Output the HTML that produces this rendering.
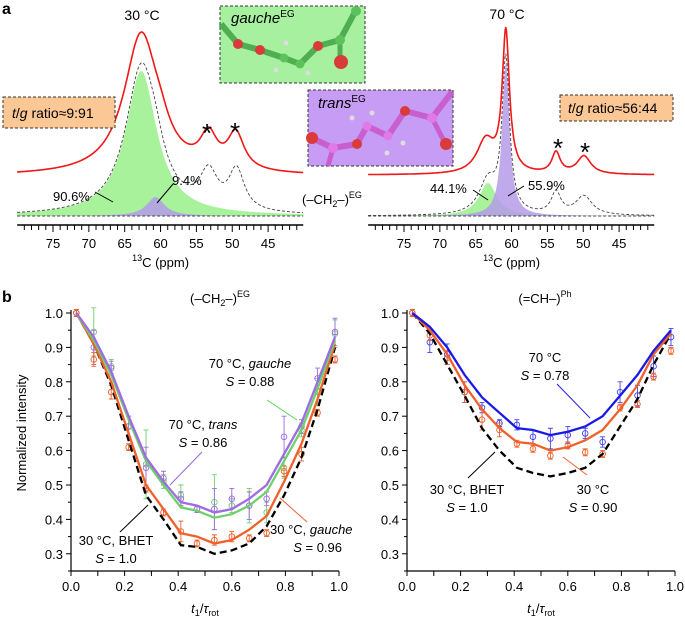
<!DOCTYPE html>
<html><head><meta charset="utf-8"><style>
html,body{margin:0;padding:0;background:#fff}
svg{display:block;font-family:"Liberation Sans",sans-serif}
</style></head><body>
<svg id="fig" width="685" height="620" viewBox="0 0 685 620" xmlns="http://www.w3.org/2000/svg">
<g id="specL"></g>
<g id="specR"></g>
<g id="insets">
 <g>
  <rect x="220" y="6" width="145" height="77" fill="#a6f0a0" stroke="#333" stroke-dasharray="3,2"/>
  <polyline points="221,24 238,44 260,50 284,58 300,64 318,46 340,40 356,10" fill="none" stroke="#4fae4f" stroke-width="6"/>
  <line x1="340" y1="40" x2="340" y2="60" stroke="#4fae4f" stroke-width="5"/>
  <circle cx="238" cy="44" r="5" fill="#d93a3a"/><circle cx="260" cy="50" r="5" fill="#d93a3a"/>
  <circle cx="284" cy="58" r="4.5" fill="#5cc25c"/><circle cx="300" cy="64" r="4.5" fill="#5cc25c"/>
  <circle cx="318" cy="46" r="5" fill="#d93a3a"/><circle cx="340" cy="40" r="5" fill="#5cc25c"/>
  <circle cx="341" cy="62" r="7" fill="#d93a3a"/><circle cx="356" cy="11" r="5" fill="#5cc25c"/>
  <circle cx="276" cy="70" r="2.5" fill="#ddd"/><circle cx="286" cy="43" r="2.5" fill="#ddd"/><circle cx="308" cy="73" r="2.5" fill="#ddd"/>
  <text x="231" y="23" font-size="15" font-style="italic">gauche<tspan font-size="10" font-style="normal" dy="-6">EG</tspan></text>
 </g>
 <g>
  <rect x="308" y="90" width="145" height="76" fill="#c79cf5" stroke="#333" stroke-dasharray="3,2"/>
  <polyline points="312,138 333,148 357,144 367,126 388,136 405,111 432,118 452,92" fill="none" stroke="#c95fcf" stroke-width="6"/>
  <line x1="432" y1="118" x2="445" y2="143" stroke="#c95fcf" stroke-width="5"/>
  <line x1="333" y1="148" x2="328" y2="166" stroke="#c95fcf" stroke-width="5"/>
  <circle cx="312" cy="138" r="6" fill="#d93a3a"/><circle cx="333" cy="148" r="5" fill="#e07ae6"/>
  <circle cx="357" cy="144" r="5" fill="#d93a3a"/><circle cx="367" cy="126" r="4.5" fill="#e07ae6"/>
  <circle cx="388" cy="136" r="4.5" fill="#e07ae6"/><circle cx="405" cy="111" r="5" fill="#d93a3a"/>
  <circle cx="432" cy="118" r="5" fill="#e07ae6"/><circle cx="446" cy="144" r="6" fill="#d93a3a"/>
  <circle cx="352" cy="118" r="2.5" fill="#ddd"/><circle cx="372" cy="113" r="2.5" fill="#ddd"/><circle cx="387" cy="153" r="2.5" fill="#ddd"/><circle cx="403" cy="143" r="2.5" fill="#ddd"/>
  <text x="318" y="108" font-size="15" font-style="italic">trans<tspan font-size="10" font-style="normal" dy="-6">EG</tspan></text>
 </g>
</g>
<g id="labelsTop" font-size="14">
 <text x="2" y="14" font-size="16" font-weight="bold">a</text>
 <text x="142" y="20" text-anchor="middle">30 °C</text>
 <text x="507" y="19" text-anchor="middle">70 °C</text>
 <rect x="3" y="97" width="112" height="31" fill="#fbc795" stroke="#333" stroke-dasharray="3,2"/>
 <text x="12" y="118" font-size="14"><tspan font-style="italic">t</tspan>/<tspan font-style="italic">g</tspan> ratio≈9:91</text>
 <rect x="560" y="95" width="113" height="26" fill="#fbc795" stroke="#333" stroke-dasharray="3,2"/>
 <text x="568" y="113" font-size="14"><tspan font-style="italic">t</tspan>/<tspan font-style="italic">g</tspan> ratio≈56:44</text>
 <text x="207" y="142" font-size="26" text-anchor="middle">*</text>
 <text x="235" y="141" font-size="26" text-anchor="middle">*</text>
 <text x="558" y="157" font-size="26" text-anchor="middle">*</text>
 <text x="585" y="161" font-size="26" text-anchor="middle">*</text>
 <text x="53" y="201" font-size="13">90.6%</text>
 <line x1="95" y1="192" x2="113" y2="202" stroke="#000"/>
 <text x="172" y="185" font-size="13">9.4%</text>
 <line x1="173" y1="184" x2="157" y2="203" stroke="#000"/>
 <text x="302" y="204" font-size="13">(–CH<tspan font-size="9" dy="3">2</tspan><tspan dy="-3">–)</tspan><tspan font-size="9" dy="-6">EG</tspan></text>
 <text x="430" y="193" font-size="13">44.1%</text>
 <line x1="473" y1="190" x2="488" y2="200" stroke="#000"/>
 <text x="528" y="190" font-size="13">55.9%</text>
 <line x1="524" y1="186" x2="508" y2="196" stroke="#000"/>
 <text x="2" y="302" font-size="16" font-weight="bold">b</text>
</g>
<g id="dephL"></g>
<g id="dephR"></g>
<g font-size="13">
 <text x="220" y="303" text-anchor="middle">(–CH<tspan font-size="9" dy="3">2</tspan><tspan dy="-3">–)</tspan><tspan font-size="9" dy="-6">EG</tspan></text>
 <text x="545" y="303" text-anchor="middle">(=CH–)<tspan font-size="9" dy="-6">Ph</tspan></text>
 <text transform="translate(26,433) rotate(-90)" text-anchor="middle">Normalized intensity</text>
 <text x="205" y="613" text-anchor="middle"><tspan font-style="italic">t</tspan><tspan font-size="9" dy="3">1</tspan><tspan dy="-3">/</tspan><tspan font-style="italic">τ</tspan><tspan font-size="9" dy="3">rot</tspan></text>
 <text x="541" y="613" text-anchor="middle"><tspan font-style="italic">t</tspan><tspan font-size="9" dy="3">1</tspan><tspan dy="-3">/</tspan><tspan font-style="italic">τ</tspan><tspan font-size="9" dy="3">rot</tspan></text>

 <text x="250" y="368" text-anchor="middle">70 °C, <tspan font-style="italic">gauche</tspan></text>
 <text x="250" y="386" text-anchor="middle"><tspan font-style="italic">S</tspan> = 0.88</text>
 <line x1="267" y1="400" x2="297" y2="420" stroke="#5ad35a"/>
 <text x="203" y="429" text-anchor="middle">70 °C, <tspan font-style="italic">trans</tspan></text>
 <text x="203" y="447" text-anchor="middle"><tspan font-style="italic">S</tspan> = 0.86</text>
 <line x1="202" y1="452" x2="170" y2="485" stroke="#9966dd"/>
 <text x="116" y="545" text-anchor="middle">30 °C, BHET</text>
 <text x="116" y="563" text-anchor="middle"><tspan font-style="italic">S</tspan> = 1.0</text>
 <line x1="148" y1="505" x2="120" y2="532" stroke="#000"/>
 <text x="270" y="534">30 °C, <tspan font-style="italic">gauche</tspan></text>
 <text x="342" y="552" text-anchor="end"><tspan font-style="italic">S</tspan> = 0.96</text>
 <line x1="280" y1="498" x2="307" y2="522" stroke="#f0602a"/>
 <text x="545" y="362" text-anchor="middle">70 °C</text>
 <text x="545" y="380" text-anchor="middle"><tspan font-style="italic">S</tspan> = 0.78</text>
 <line x1="557" y1="384" x2="590" y2="418" stroke="#2222ee"/>
 <text x="467" y="494" text-anchor="middle">30 °C, BHET</text>
 <text x="467" y="512" text-anchor="middle"><tspan font-style="italic">S</tspan> = 1.0</text>
 <line x1="495" y1="452" x2="468" y2="478" stroke="#000"/>
 <text x="593" y="494" text-anchor="middle">30 °C</text>
 <text x="593" y="512" text-anchor="middle"><tspan font-style="italic">S</tspan> = 0.90</text>
 <line x1="563" y1="457" x2="587" y2="475" stroke="#f0602a"/>
</g>
</svg>
<script>
// ---------- spectra peak data (ppm, height px, fwhm ppm) ----------
const L_greenPeak = [62.7, 145, 5.3];
const L_purplePeak = [60.7, 19, 3.0];
const L_ssbPeaks = [[53.3, 36, 3.0], [49.4, 40, 2.6]];
const L_redPeaks = [[62.7, 140, 5.8], [60.0, 12, 3.0], [53.3, 32, 2.8], [49.5, 36, 2.8]];
const R_greenPeak = [63.3, 33, 3.0];
const R_purplePeak = [60.8, 153, 1.25];
const R_ssbPeaks = [[53.8, 22, 1.6], [49.9, 19, 2.8]];
const R_redPeaks = [[60.8, 140, 1.2], [63.6, 33, 3.0], [53.8, 21, 1.4], [49.9, 18, 2.3]];
const ppmTicks = [75, 70, 65, 60, 55, 50, 45];

// ---------- dephasing data ----------
const tVals = [0.02,0.085,0.15,0.215,0.28,0.345,0.41,0.47,0.535,0.6,0.665,0.73,0.795,0.86,0.92,0.985];
const Lpurple = [1.0,0.93,0.83,0.70,0.58,0.51,0.45,0.44,0.42,0.43,0.46,0.50,0.59,0.68,0.80,0.93];
const Lgreen  = [1.0,0.92,0.82,0.69,0.57,0.50,0.435,0.425,0.405,0.415,0.44,0.48,0.57,0.66,0.78,0.92];
const Lorange = [1.0,0.91,0.80,0.65,0.50,0.43,0.36,0.35,0.33,0.34,0.37,0.41,0.51,0.62,0.75,0.91];
const Lblack  = [1.0,0.91,0.79,0.63,0.47,0.40,0.325,0.32,0.30,0.31,0.33,0.38,0.47,0.58,0.72,0.90];
const LpurplePts = [1.0,0.90,0.84,0.67,0.55,0.52,0.46,0.43,0.43,0.46,0.44,0.46,0.64,0.67,0.81,0.945];
const LgreenPts  = [1.0,0.945,0.845,0.67,0.56,0.51,0.47,0.43,0.45,0.44,0.44,0.42,0.55,0.66,0.77,0.94];
const LorangePts = [1.0,0.865,0.77,0.61,0.49,0.42,0.365,0.33,0.34,0.35,0.345,0.36,0.54,0.59,0.71,0.865];
const LpurpleErr = [0.01,0.05,0.02,0.03,0.06,0.02,0.02,0.01,0.06,0.03,0.04,0.02,0.06,0.02,0.03,0.04];
const LgreenErr  = [0.01,0.07,0.02,0.03,0.10,0.02,0.03,0.01,0.08,0.02,0.05,0.03,0.03,0.02,0.04,0.04];
const LorangeErr = [0.01,0.02,0.02,0.01,0.01,0.01,0.03,0.01,0.015,0.015,0.01,0.01,0.015,0.02,0.01,0.01];
const Rblue   = [1.0,0.96,0.90,0.82,0.755,0.71,0.665,0.66,0.645,0.655,0.67,0.70,0.76,0.82,0.89,0.95];
const Rorange = [1.0,0.95,0.88,0.79,0.72,0.665,0.625,0.62,0.60,0.61,0.63,0.66,0.72,0.79,0.88,0.94];
const Rblack  = [1.0,0.94,0.85,0.76,0.665,0.60,0.55,0.535,0.525,0.535,0.55,0.59,0.67,0.75,0.85,0.94];
const RbluePts   = [1.0,0.915,0.88,0.77,0.725,0.68,0.675,0.64,0.635,0.645,0.65,0.625,0.77,0.76,0.845,0.93];
const RorangePts = [1.0,0.935,0.87,0.77,0.69,0.66,0.62,0.605,0.585,0.615,0.595,0.59,0.725,0.735,0.815,0.89];
const RblueErr   = [0.01,0.03,0.03,0.03,0.015,0.01,0.015,0.02,0.03,0.025,0.015,0.015,0.03,0.03,0.03,0.025];
const RorangeErr = [0.01,0.015,0.02,0.03,0.03,0.02,0.01,0.01,0.01,0.01,0.01,0.01,0.01,0.01,0.01,0.01];
const yTickVals = [1.0,0.9,0.8,0.7,0.6,0.5,0.4,0.3];
const xTickVals = [0.0,0.2,0.4,0.6,0.8,1.0];

const NS = 'http://www.w3.org/2000/svg';
function mk(parent, tag, attrs) {
  const e = document.createElementNS(NS, tag);
  for (const k in attrs) e.setAttribute(k, attrs[k]);
  parent.appendChild(e);
  return e;
}
function lor(p, peak) { const g = peak[2] / 2; return peak[1] * g * g / ((p - peak[0]) ** 2 + g * g); }

function spectrum(gid, x75, red, green, purple, ssb, redBase) {
  const g = document.getElementById(gid);
  const xs = p => x75 + (75 - p) * 7.17;
  const base = 216;
  const pmin = 40.1, pmax = 80;
  const ppms = [];
  for (let p = pmax; p >= pmin - 0.001; p -= 0.1) ppms.push(p);
  let d = `M${xs(pmax)},${base}`;
  ppms.forEach(p => d += `L${xs(p).toFixed(1)},${(base - lor(p, green)).toFixed(1)}`);
  d += `L${xs(pmin)},${base}Z`;
  let e = mk(g, 'path', {d, fill: '#a8f29c', stroke: 'none'});
  
  
  d = `M${xs(pmax)},${base}`;
  ppms.forEach(p => d += `L${xs(p).toFixed(1)},${(base - lor(p, purple)).toFixed(1)}`);
  d += `L${xs(pmin)},${base}Z`;
  e = mk(g, 'path', {d, fill: '#b59be8', 'fill-opacity': 0.85, stroke: 'none'});
  
  
  d = '';
  ppms.forEach((p, i) => {
    let v = lor(p, green) + lor(p, purple); ssb.forEach(s => v += lor(p, s));
    d += (i ? 'L' : 'M') + xs(p).toFixed(1) + ',' + (base - v).toFixed(1);
  });
  e = mk(g, 'path', {d, fill: 'none', stroke: '#444', 'stroke-width': 0.9, 'stroke-dasharray': '3,2'});
  
  
  e = mk(g, 'line', {x1: xs(pmax), x2: xs(pmin), y1: base, y2: base, stroke: '#444', 'stroke-width': 0.9, 'stroke-dasharray': '3,2'});
  
  
  d = '';
  ppms.forEach((p, i) => {
    let v = 0; red.forEach(s => v += lor(p, s));
    d += (i ? 'L' : 'M') + xs(p).toFixed(1) + ',' + (redBase - v).toFixed(1);
  });
  e = mk(g, 'path', {d, fill: 'none', stroke: '#f01818', 'stroke-width': 1.6});
  
  
  e = mk(g, 'line', {x1: xs(pmax), x2: xs(pmin), y1: 225, y2: 225, stroke: '#000', 'stroke-width': 1.5});
  
  
  for (let p = 79; p >= 41; p--) {
    const maj = p % 5 === 0;
    e = mk(g, 'line', {x1: xs(p), x2: xs(p), y1: 225, y2: maj ? 232 : 230, stroke: '#000', 'stroke-width': 1});
    
    
  }
  ppmTicks.forEach(p => {
    const t = mk(g, 'text', {x: xs(p), y: 248, 'font-size': 13, 'text-anchor': 'middle'});
    t.textContent = p;
    
    
  });
  const tt = mk(g, 'text', {x: xs(60), y: 267, 'font-size': 13, 'text-anchor': 'middle'});
  tt.innerHTML = '<tspan font-size="9" dy="-6">13</tspan><tspan dy="6">C (ppm)</tspan>';
  
  
}
spectrum('specL', 53, L_redPeaks, L_greenPeak, L_purplePeak, L_ssbPeaks, 176);
spectrum('specR', 404, R_redPeaks, R_greenPeak, R_purplePeak, R_ssbPeaks, 175);

function deph(gid, x0, lines, pts) {
  const g = document.getElementById(gid);
  const X = t => x0 + 268 * t;
  const Y = v => 313 + (1 - v) * 344;
  let e = mk(g, 'line', {x1: x0, x2: x0, y1: 310, y2: 571, stroke: '#000', 'stroke-width': 1.2});
  
  
  e = mk(g, 'line', {x1: x0, x2: x0 + 268, y1: 571, y2: 571, stroke: '#000', 'stroke-width': 1.2});
  
  
  for (let k = 0; k <= 15; k++) {
    const v = 0.25 + k * 0.05;
    e = mk(g, 'line', {x1: x0 - (k % 2 ? 5 : 3), x2: x0, y1: Y(v), y2: Y(v), stroke: '#000'});
    
    
  }
  yTickVals.forEach(v => {
    const t = mk(g, 'text', {x: x0 - 8, y: Y(v) + 5, 'font-size': 13, 'text-anchor': 'end'});
    t.textContent = v.toFixed(1);
    
    
  });
  for (let k = 0; k <= 10; k++) {
    e = mk(g, 'line', {x1: X(k / 10), x2: X(k / 10), y1: 571, y2: 576, stroke: '#000'});
    
    
  }
  xTickVals.forEach(v => {
    const t = mk(g, 'text', {x: X(v), y: 591, 'font-size': 13, 'text-anchor': 'middle'});
    t.textContent = v.toFixed(1);
    
    
  });
  pts.forEach(s => {
    s.vals.forEach((v, i) => {
      const x = X(tVals[i]), y = Y(v), er = s.err[i] * 344;
      let b = mk(g, 'path', {d: `M${x},${y - er}V${y + er}M${x - 2.5},${y - er}H${x + 2.5}M${x - 2.5},${y + er}H${x + 2.5}`, stroke: s.c, 'stroke-width': 0.9, fill: 'none'});
      
      
      b = mk(g, 'circle', {cx: x, cy: y, r: 2.8, fill: 'none', stroke: s.c, 'stroke-width': 0.9});
      
      
    });
  });
  lines.forEach(s => {
    const d = s.vals.map((v, i) => (i ? 'L' : 'M') + X(tVals[i]).toFixed(1) + ',' + Y(v).toFixed(1)).join('');
    const p = mk(g, 'path', {d, fill: 'none', stroke: s.c, 'stroke-width': 2.3, 'stroke-dasharray': s.dash || 'none'});
    
    
  });
}
deph('dephL', 71,
  [{vals: Lblack, c: '#000', dash: '7,4', name: 'bhet-line'},
   {vals: Lorange, c: '#f0602a', name: 'gauche-30C-line'},
   {vals: Lgreen, c: '#6fd06a', name: 'gauche-70C-line'},
   {vals: Lpurple, c: '#9c6ce0', name: 'trans-70C-line'}],
  [{vals: LgreenPts, err: LgreenErr, c: '#6fd06a'},
   {vals: LpurplePts, err: LpurpleErr, c: '#9c6ce0'},
   {vals: LorangePts, err: LorangeErr, c: '#f0602a'}]);
deph('dephR', 407,
  [{vals: Rblack, c: '#000', dash: '7,4', name: 'bhet-line'},
   {vals: Rorange, c: '#f0602a', name: 'ch-30C-line'},
   {vals: Rblue, c: '#1a1ae6', name: 'ch-70C-line'}],
  [{vals: RbluePts, err: RblueErr, c: '#4444ee'},
   {vals: RorangePts, err: RorangeErr, c: '#f0602a'}]);
</script>
</body></html>
